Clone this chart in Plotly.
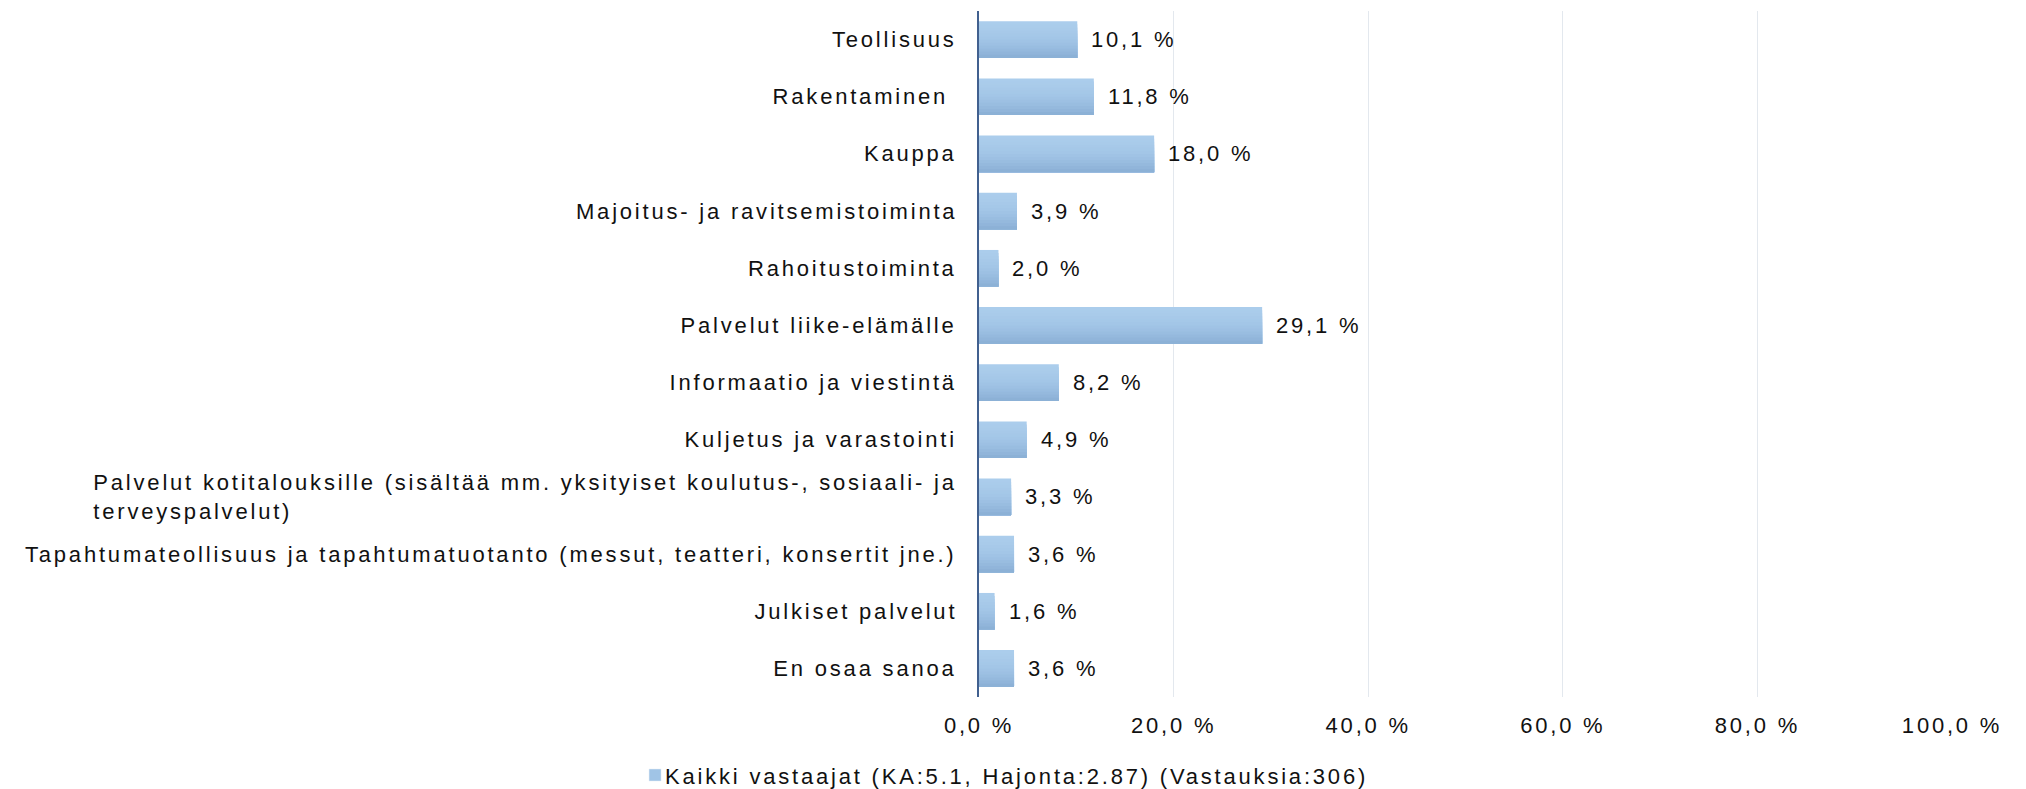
import plotly.graph_objects as go

categories = [
    "Teollisuus",
    "Rakentaminen\u00a0",
    "Kauppa",
    "Majoitus- ja ravitsemistoiminta",
    "Rahoitustoiminta",
    "Palvelut liike-elämälle",
    "Informaatio ja viestintä",
    "Kuljetus ja varastointi",
    "Palvelut kotitalouksille (sisältää mm. yksityiset koulutus-, sosiaali- ja<br>terveyspalvelut)",
    "Tapahtumateollisuus ja tapahtumatuotanto (messut, teatteri, konsertit jne.)",
    "Julkiset palvelut",
    "En osaa sanoa",
]
values = [10.1, 11.8, 18.0, 3.9, 2.0, 29.1, 8.2, 4.9, 3.3, 3.6, 1.6, 3.6]
x_tickvals = [0, 20, 40, 60, 80, 100]
x_ticktext = ["0,0 %", "20,0 %", "40,0 %", "60,0 %", "80,0 %", "100,0 %"]
series_name = "Kaikki vastaajat (KA:5.1, Hajonta:2.87) (Vastauksia:306)"

# vertical gradient of the bar fill, top (light) to bottom (dark)
bar_shades = ["#ABCDEC", "#AACCEB", "#A9CBEA", "#A7C9E9", "#A5C8E8", "#A3C6E7",
              "#A0C3E5", "#9DC0E3", "#99BDE0", "#95B9DD", "#91B5DA", "#8CB1D6"]
legend_color = "#A0C4E6"

FONT = "Liberation Sans, Arial, sans-serif"
TXT = "#111111"
W, H = 2026, 789
ML, MR, MT, MB = 979, 74, 11, 92
BAR_W = 0.64

fig = go.Figure()
n = len(bar_shades)
bw = BAR_W / n
for k, col in enumerate(bar_shades):
    # each layer starts lower and runs to the bottom of the bar, so layers overlap without seams
    fig.add_trace(go.Bar(
        x=values, y=categories, orientation="h",
        width=BAR_W - k * bw, offset=-BAR_W / 2 + k * bw,
        marker=dict(color=col, line=dict(width=0)),
        name=series_name, legendgroup="s", showlegend=False,
        hoverinfo="skip" if k else None,
    ))
# legend entry for the series
fig.add_trace(go.Bar(
    x=[None], y=[None], orientation="h", marker=dict(color=legend_color),
    name=series_name, legendgroup="s", showlegend=True,
))

annotations = []
for c in categories:
    annotations.append(dict(
        x=0, xref="paper", y=c, yref="y", xanchor="right", yanchor="middle",
        xshift=-21, text=c, showarrow=False, align="left", borderpad=0,
        font=dict(family=FONT, size=22, color=TXT),
    ))
for c, v in zip(categories, values):
    annotations.append(dict(
        x=v, xref="x", y=c, yref="y", xanchor="left", yanchor="middle",
        xshift=13, text=f"{v:.1f}".replace(".", ",") + " %", showarrow=False,
        borderpad=0, font=dict(family=FONT, size=22, color=TXT),
    ))

fig.update_layout(
    width=W, height=H,
    margin=dict(l=ML, r=MR, t=MT, b=MB, pad=0, autoexpand=False),
    paper_bgcolor="white", plot_bgcolor="white",
    font=dict(family=FONT, size=22, color=TXT),
    barmode="overlay",
    annotations=annotations,
    showlegend=True,
    legend=dict(
        orientation="h", x=-0.3535, xanchor="left", y=-0.114, yanchor="middle",
        font=dict(family=FONT, size=22, color=TXT), bgcolor="rgba(0,0,0,0)",
    ),
    xaxis=dict(
        range=[0, 100], tickvals=x_tickvals, ticktext=x_ticktext,
        showgrid=True, gridcolor="#E3E8EE", gridwidth=1, zeroline=False,
        showline=False, ticks="", ticklabelstandoff=13,
        tickfont=dict(family=FONT, size=22, color=TXT), fixedrange=True,
    ),
    yaxis=dict(
        range=[11.5, -0.5], showticklabels=False, showgrid=False, zeroline=False,
        showline=True, linecolor="#41608F", linewidth=2, ticks="", fixedrange=True,
    ),
)

post = r"""
(function(){
var gd = document.getElementById('{plot_id}');
document.body.style.margin = '0';
document.body.style.overflow = 'hidden';
var LS = '2.8px';
function fix(){
  gd.querySelectorAll('g.annotation').forEach(function(g){
    var t = g.querySelector('text.annotation-text');
    if(!t || t.getAttribute('data-ls')) return;
    var idx = +g.getAttribute('data-index');
    var ann = gd._fullLayout.annotations[idx] || {};
    var b0 = t.getBBox();
    t.style.letterSpacing = LS;
    var b1 = t.getBBox();
    var dx = 0;
    if(ann.xanchor === 'right') dx = (b0.x + b0.width) - (b1.x + b1.width);
    else if(ann.xanchor === 'left') dx = b0.x - b1.x;
    t.setAttribute('transform', 'translate(' + dx + ',0)');
    t.setAttribute('data-ls', '1');
  });
  gd.querySelectorAll('g.legend [clip-path]').forEach(function(e){ e.removeAttribute('clip-path'); });
  gd.querySelectorAll('g.legend text.legendtext').forEach(function(t){
    if(!t.getAttribute('data-ls')){ t.setAttribute('transform','translate(-10,0)'); }
  });
  gd.querySelectorAll('text').forEach(function(t){
    if(!t.getAttribute('data-ls')){ t.style.letterSpacing = LS; t.setAttribute('data-ls','1'); }
  });
}
fix();
gd.on('plotly_afterplot', fix);
})();
"""

fig.write_html("out.html", post_script=post, config={"displayModeBar": False})
